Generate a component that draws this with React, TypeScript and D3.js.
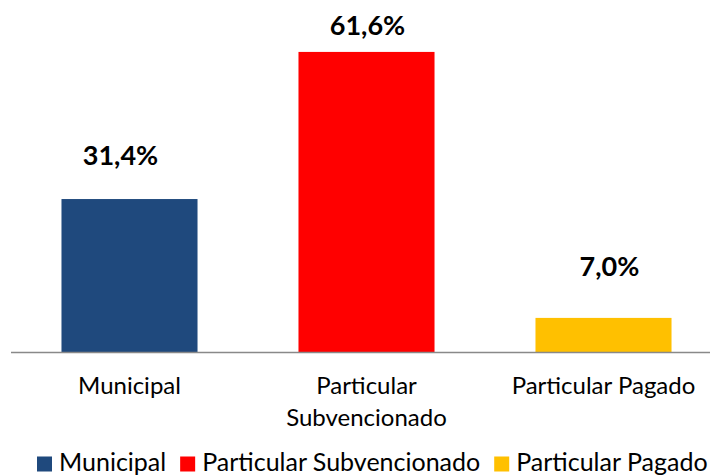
import React, { useRef, useEffect } from 'react';
import * as d3 from 'd3';

const categories = ['Municipal', 'Particular Subvencionado', 'Particular Pagado'];
const tickLines = [['Municipal'], ['Particular', 'Subvencionado'], ['Particular Pagado']];
const values = [31.4, 61.6, 7.0];
const colors = ['#1F497D', '#FF0000', '#FFC000'];

const width = 710;
const height = 475;
const font = 'Lato, "Open Sans", sans-serif';
// hand-placed data labels in the original: [dx, baseline gap above bar]
const labelNudge = [[-9, 34], [1, 17], [6, 42]];

const App = () => {
  const chartRef = useRef<SVGSVGElement>(null);

  useEffect(() => {
    const svg = d3.select(chartRef.current)
      .attr('width', width)
      .attr('height', height);

    const x = d3.scaleBand()
      .domain(categories)
      .range([11, 722])
      .paddingInner(0.426)
      .paddingOuter(0.213);

    const y = d3.scaleLinear()
      .domain([0, 70])
      .range([352, 11]);

    const data = categories.map((c, i) => ({ name: c, value: values[i], color: colors[i], lines: tickLines[i], nudge: labelNudge[i] }));

    svg.append('g')
      .selectAll()
      .data(data)
      .join('rect')
      .attr('x', d => x(d.name)!)
      .attr('y', d => y(d.value))
      .attr('width', x.bandwidth())
      .attr('height', d => y(0) - y(d.value))
      .attr('fill', d => d.color);

    // axis line
    svg.append('line')
      .attr('x1', 11)
      .attr('x2', width)
      .attr('y1', y(0) + 0.5)
      .attr('y2', y(0) + 0.5)
      .attr('stroke', '#898989')
      .attr('stroke-width', 1.5);

    // value labels
    svg.append('g')
      .attr('font-family', font)
      .attr('font-size', 27)
      .attr('font-weight', 'bold')
      .attr('text-anchor', 'middle')
      .attr('fill', '#000')
      .selectAll()
      .data(data)
      .join('text')
      .attr('x', d => x(d.name)! + x.bandwidth() / 2 + d.nudge[0])
      .attr('y', d => y(d.value) - d.nudge[1])
      .text(d => d.value.toFixed(1).replace('.', ',') + '%');

    // category labels
    const ticks = svg.append('g')
      .attr('font-family', font)
      .attr('font-size', 24)
      .attr('text-anchor', 'middle')
      .attr('fill', '#000')
      .selectAll()
      .data(data)
      .join('text')
      .attr('x', d => x(d.name)! + x.bandwidth() / 2)
      .attr('y', 394);
    ticks.selectAll('tspan')
      .data(d => d.lines.map(l => ({ l, cx: x(d.name)! + x.bandwidth() / 2 })))
      .join('tspan')
      .attr('x', d => d.cx)
      .attr('dy', (d, i) => (i === 0 ? 0 : 32))
      .text(d => d.l);

    // legend
    const legend = svg.append('g')
      .attr('font-family', font)
      .attr('font-size', 25)
      .attr('fill', '#000');
    let lx = 37;
    data.forEach(d => {
      legend.append('rect')
        .attr('x', lx)
        .attr('y', 456.5)
        .attr('width', 15)
        .attr('height', 15)
        .attr('fill', d.color);
      const t = legend.append('text')
        .attr('x', lx + 22)
        .attr('y', 471)
        .text(d.name);
      const w = (t.node() as SVGTextElement).getComputedTextLength();
      lx += 22 + w + 14;
    });

    return () => {
      svg.selectAll('*').remove();
    };
  }, []);

  return <svg ref={chartRef} style={{ position: 'absolute', left: 0, top: 0 }} />;
};

export default App;
